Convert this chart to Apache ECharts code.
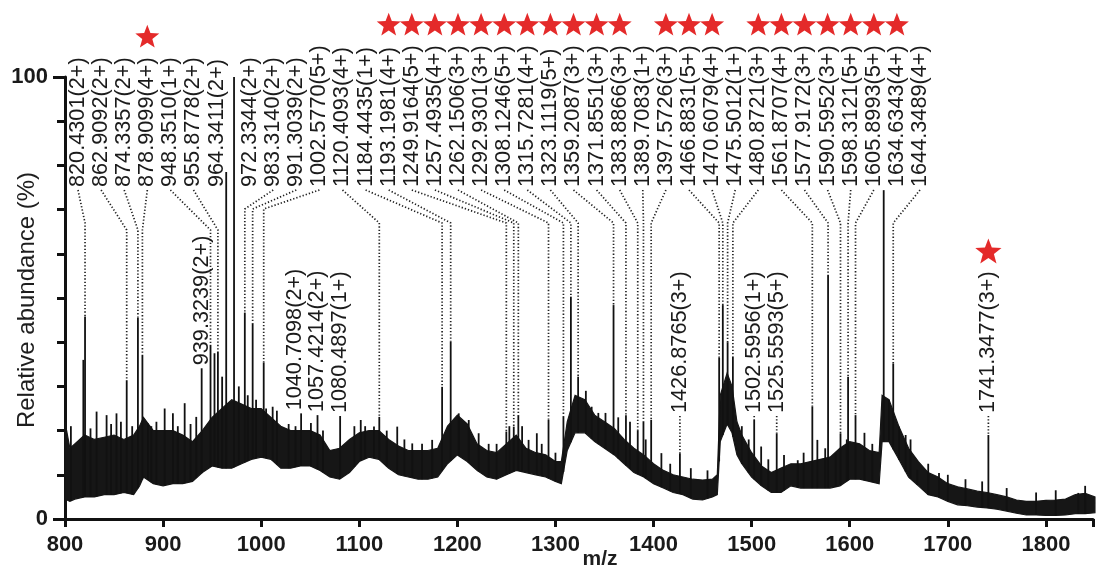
<!DOCTYPE html>
<html>
<head>
<meta charset="utf-8">
<script src="https://cdn.jsdelivr.net/npm/echarts@6/dist/echarts.min.js"></script>
<style>
  html, body { margin: 0; padding: 0; background: #ffffff; }
  #chart { width: 1096px; height: 570px; }
</style>
</head>
<body>
<div id="chart"></div>
<script>
// ---- Data -------------------------------------------------------------

// Ions labelled in the row along the top: m/z, charge, relative abundance (%)
const topMz = [820.4301, 862.9092, 874.3357, 878.9099, 948.3510, 955.8778, 964.3411,
  972.3344, 983.3140, 991.3039, 1002.5770, 1120.4093, 1184.4435, 1193.1981, 1249.9164,
  1257.4935, 1262.1506, 1292.9301, 1308.1246, 1315.7281, 1323.1119, 1359.2087, 1371.8551,
  1383.8866, 1389.7083, 1397.5726, 1466.8831, 1470.6079, 1475.5012, 1480.8721, 1561.8707,
  1577.9172, 1590.5952, 1598.3121, 1605.8993, 1634.6343, 1644.3489];
const topCharge = [2, 2, 2, 4, 1, 2, 2,
  2, 2, 2, 5, 4, 1, 4, 5,
  4, 3, 3, 5, 4, 5, 3, 3,
  3, 1, 3, 5, 4, 1, 3, 4,
  3, 3, 5, 5, 4, 4];
const topAbundance = [45.8, 31.4, 45.5, 37.1, 39.4, 37.9, 78.5,
  100, 46.7, 44.3, 35.4, 23.1, 29.9, 40.1, 19.8,
  20.9, 23.5, 22.4, 23.1, 50.3, 32.2, 48.4, 23.5,
  20.1, 22.0, 22.4, 36.5, 48.4, 40.0, 36.7, 25.4,
  55.2, 19.4, 32.2, 23.5, 74.4, 35.2];

// Ions labelled just above their own peak
const lowMz = [939.3239, 1040.7098, 1057.4214, 1080.4897, 1426.8765, 1502.5956, 1525.5593, 1741.3477];
const lowCharge = [2, 2, 2, 1, 3, 1, 5, 3];
const lowAbundance = [34.1, 23.9, 23.5, 23.3, 14.9, 22.4, 19.4, 19.0];

// Ions marked with a red star
const starredMz = [878.9099, 1193.1981, 1249.9164, 1257.4935, 1262.1506, 1292.9301,
  1308.1246, 1315.7281, 1323.1119, 1359.2087, 1371.8551, 1383.8866, 1397.5726,
  1466.8831, 1470.6079, 1480.8721, 1561.8707, 1577.9172, 1590.5952, 1598.3121,
  1605.8993, 1634.6343, 1741.3477];

// Other unlabelled spikes rising above the baseline
const spikeMz = [806.0, 818.7, 826.0, 832.2, 842.4, 847.0, 852.5, 857.0, 868.5, 884.6,
  888.0, 893.2, 901.6, 910.0, 915.0, 922.0, 928.0, 933.8, 952.4, 960.2,
  977.2, 986.3, 994.8, 1005.0, 1011.7, 1016.0, 1028.0, 1035.0, 1050.7, 1063.0,
  1095.0, 1101.5, 1106.0, 1115.0, 1128.0, 1138.7, 1146.0, 1154.0, 1164.0, 1174.3,
  1201.4, 1211.6, 1221.7, 1231.9, 1240.0, 1253.0, 1266.0, 1272.6, 1281.0, 1286.0,
  1300.0, 1331.0, 1336.9, 1343.7, 1351.0, 1364.0, 1376.0, 1392.0, 1408.0, 1417.0,
  1438.0, 1455.0, 1490.0, 1497.0, 1509.7, 1517.0, 1533.0, 1547.0, 1553.0, 1567.0,
  1575.0, 1585.7, 1597.0, 1615.0, 1623.0, 1640.0, 1650.3, 1657.0, 1662.0, 1668.9,
  1680.0, 1691.0, 1700.0, 1718.0, 1735.0, 1760.0, 1790.0, 1810.0, 1833.0, 1840.0];
const spikeAbundance = [21, 36, 20.5, 24.3, 23.5, 21.5, 23.9, 22, 21, 21.6,
  21, 22, 25, 23.9, 21, 26.2, 21.5, 23.1, 37.5, 32.2,
  30, 28, 27, 25, 25.4, 24.5, 21.5, 21, 21.7, 20,
  21, 22.4, 21, 20.9, 20, 20.9, 18, 17.1, 17, 17.9,
  23.9, 22.4, 19.4, 17, 17, 21, 21, 17.9, 19.4, 17,
  15, 29, 25.4, 24, 24, 23, 22, 18, 14.9, 12.5,
  11.5, 11, 21, 18, 16.4, 13.5, 14.5, 13.3, 15, 17.9,
  16, 14.9, 18, 19.5, 17, 27, 20.9, 19, 18, 11.1,
  12.5, 10.4, 10, 9, 8.5, 7, 6, 6.5, 5.9, 7.5];

// Noise band of the trace: m/z with lower and upper envelope (%)
const bandMz = [800, 805, 810, 820, 830, 840, 850, 860, 870, 876, 880, 890, 900, 910, 920, 930,
  940, 950, 960, 970, 980, 990, 1000, 1010, 1020, 1030, 1040, 1050, 1060, 1070, 1080, 1090,
  1100, 1110, 1120, 1130, 1140, 1150, 1160, 1170, 1180, 1190, 1200, 1210, 1220, 1230, 1240,
  1250, 1260, 1270, 1280, 1290, 1300, 1306, 1312, 1320, 1330, 1340, 1350, 1360, 1370, 1380,
  1390, 1400, 1410, 1420, 1430, 1440, 1450, 1460, 1465, 1468, 1475, 1480, 1485, 1490, 1500,
  1510, 1520, 1530, 1540, 1550, 1560, 1570, 1580, 1590, 1600, 1610, 1620, 1630, 1633, 1640,
  1650, 1660, 1670, 1680, 1690, 1700, 1710, 1720, 1730, 1740, 1750, 1760, 1770, 1780, 1790,
  1800, 1810, 1820, 1830, 1840, 1850];
const bandLow = [4.5, 4, 4.5, 5, 5, 5.5, 5.5, 6, 5.5, 7.5, 9.5, 8, 7.5, 8, 8, 8.5,
  10.5, 12, 11.5, 11.5, 12.5, 13.5, 14, 13.5, 11.5, 11.5, 12, 12, 11, 9.5, 9, 10.5,
  13, 14, 13.5, 11.5, 10, 9.5, 9, 9, 9.5, 12.5, 14.5, 13, 11, 9.5, 9,
  10, 11, 10.5, 10, 9.5, 8.5, 8, 15.5, 19.5, 19.5, 17.5, 16, 14.5, 12.5, 10.5,
  9.5, 8, 7, 6, 5.5, 4.5, 4.3, 5, 5.5, 17.5, 21.5, 19.5, 14.5, 12.5, 9.5,
  7.5, 6, 6, 7.5, 7, 7, 7, 7, 7.5, 9, 9, 8.5, 8, 17.5, 17.5,
  13.5, 9.5, 7.5, 5.5, 5, 4, 3.2, 3, 2.7, 2.5, 2.2, 1.8, 1.3, 0.9, 0.9,
  0.8, 0.8, 0.9, 1.2, 1.2, 1.4];
const bandHigh = [22, 16, 17, 19, 18, 18.5, 19, 18, 19, 21, 23, 20, 20, 20, 19, 17.5,
  20, 23, 25, 27, 26, 25, 25, 23, 21, 20, 20, 20, 19, 15.5, 16, 18,
  19.5, 20, 20, 18, 16.5, 15.5, 15.5, 15.5, 16, 21, 23.5, 21.5, 17, 15.5, 15,
  17, 19, 16, 15, 14.5, 13, 13, 22, 28, 27, 23.5, 22, 20.5, 18, 16,
  14.5, 12.5, 11, 10, 9.5, 9, 8.8, 9, 10, 28, 33, 30, 22, 19, 15,
  12, 10.5, 11.5, 12.5, 12.5, 13, 13.5, 14, 16, 17.5, 17, 15.5, 15, 28, 27,
  21, 16, 13, 10.5, 9.5, 8, 7.3, 6.8, 6.3, 6, 5.5, 5, 4.3, 4, 4,
  4.2, 4.3, 4.5, 5.5, 5.8, 5];

// Axis ranges
const xRange = [800, 1848];
const yRange = [0, 100];

// ---- Layout and style -------------------------------------------------

const FONT = '"Liberation Sans", Arial, Helvetica, sans-serif';
const LABEL_SIZE = 21.7;
const INK = '#1b1b1b';
const STAR_RED = '#e42a2a';

// top row of labels: evenly spaced slots with one wider gap
const SLOT_START = 78, SLOT_STEP = 23.1, SLOT_EXTRA = 10.4, SLOT_EXTRA_AFTER = 7;
const TOP_LABEL_BASE = 187;      // y where each top-row label starts (reads upward)
const LOW_LABEL_BASE = 413;      // y where labels above the trace start
const LOW_LABEL_MIN_GAP = 22;

function slotX(i) {
  return SLOT_START + i * SLOT_STEP + (i >= SLOT_EXTRA_AFTER ? SLOT_EXTRA : 0);
}
function bendY(i) {
  if (i >= 1 && i <= 5) return 230;
  if (i >= 8 && i <= 10) return 209;
  return 223;
}

const measureCtx = document.createElement('canvas').getContext('2d');
measureCtx.font = LABEL_SIZE + 'px ' + FONT;
if ('fontKerning' in measureCtx) measureCtx.fontKerning = 'none';
// digits are tabular, so the length of a label depends only on its character pattern
function labelLength(t) { return measureCtx.measureText(t.replace(/\d/g, '0')).width; }
function ionLabel(mz, z) { return mz.toFixed(4) + '(' + z + '+)'; }
function isStarred(mz) { return starredMz.indexOf(mz) >= 0; }

function starShape(cx, cy, R) {
  const pts = [];
  for (let k = 0; k < 10; k++) {
    const a = -Math.PI / 2 + k * Math.PI / 5;
    const r = k % 2 ? R * 0.42 : R;
    pts.push([cx + r * Math.cos(a), cy + r * Math.sin(a)]);
  }
  return { type: 'polygon', shape: { points: pts }, style: { fill: STAR_RED } };
}

function labelText(x, y, text) {
  return {
    type: 'text', x: x, y: y, rotation: Math.PI / 2,
    style: { text: text, fill: INK, fontSize: LABEL_SIZE, fontFamily: FONT,
             align: 'left', verticalAlign: 'middle' }
  };
}

function dotted(points) {
  return {
    type: 'polyline', shape: { points: points },
    style: { stroke: '#222', lineWidth: 1.7, lineDash: [1.3, 2], fill: null }
  };
}

// lower edge of the band at a given m/z, used as the foot of each spike
function bandFloor(mz) {
  for (let i = 1; i < bandMz.length; i++) {
    if (mz <= bandMz[i]) {
      const t = (mz - bandMz[i - 1]) / (bandMz[i] - bandMz[i - 1]);
      return bandLow[i - 1] + t * (bandLow[i] - bandLow[i - 1]);
    }
  }
  return bandLow[bandLow.length - 1];
}

const peakData = []
  .concat(topMz.map((m, i) => [m, topAbundance[i]]))
  .concat(lowMz.map((m, i) => [m, lowAbundance[i]]))
  .concat(spikeMz.map((m, i) => [m, spikeAbundance[i]]));

// ---- Chart ------------------------------------------------------------

const chart = echarts.init(document.getElementById('chart'), null, { renderer: 'canvas' });
document.querySelectorAll('#chart canvas').forEach(c => {
  const ctx = c.getContext('2d');
  if (ctx && 'fontKerning' in ctx) ctx.fontKerning = 'none';
});

chart.setOption({
  animation: false,
  backgroundColor: '#ffffff',
  grid: { left: 65, right: 0, top: 77, bottom: 51 },
  xAxis: {
    type: 'value', min: xRange[0], max: xRange[1], interval: 100,
    axisLine: { show: true, lineStyle: { color: '#111', width: 3 } },
    axisTick: { show: true, length: 8, lineStyle: { color: '#111', width: 3 } },
    axisLabel: {
      color: '#1a1a1a', fontSize: 22, fontWeight: 'bold', fontFamily: FONT, margin: 15,
      formatter: v => (v % 100 === 0 && v <= 1800 ? String(v) : '')
    },
    splitLine: { show: false }
  },
  yAxis: {
    type: 'value', min: yRange[0], max: yRange[1], interval: 100,
    axisLine: { show: true, lineStyle: { color: '#111', width: 3 } },
    axisTick: { show: true, length: 12, lineStyle: { color: '#111', width: 3 } },
    minorTick: { show: true, splitNumber: 10, length: 8, lineStyle: { color: '#111', width: 3 } },
    axisLabel: { color: '#1a1a1a', fontSize: 22, fontWeight: 'bold', fontFamily: FONT, margin: 17 },
    splitLine: { show: false }, minorSplitLine: { show: false }
  },
  graphic: [
    { type: 'text', x: 27, y: 300, rotation: Math.PI / 2,
      style: { text: 'Relative abundance (%)', fill: '#1e1e1e', fontSize: 24, fontFamily: FONT,
               align: 'center', verticalAlign: 'middle' } },
    { type: 'text', x: 600, y: 559,
      style: { text: 'm/z', fill: '#1e1e1e', fontSize: 21, fontWeight: 'bold', fontFamily: FONT,
               align: 'center', verticalAlign: 'middle' } }
  ],
  series: [
    {
      // dense noise band of the spectrum
      type: 'custom', name: 'baseline', z: 1,
      data: bandMz.map((m, i) => [m, bandLow[i], bandHigh[i]]),
      renderItem: function (params, api) {
        if (params.dataIndex !== 0) return null;
        const pts = [];
        for (let i = 0; i < bandMz.length; i++) pts.push(api.coord([bandMz[i], bandHigh[i]]));
        for (let i = bandMz.length - 1; i >= 0; i--) pts.push(api.coord([bandMz[i], bandLow[i]]));
        return { type: 'polygon', shape: { points: pts },
                 style: { fill: '#161616', stroke: '#161616', lineWidth: 1.2 } };
      }
    },
    {
      // peak sticks
      type: 'custom', name: 'peaks', z: 2,
      data: peakData,
      renderItem: function (params, api) {
        const mz = api.value(0);
        const top = api.coord([mz, api.value(1)]);
        const foot = api.coord([mz, bandFloor(mz)]);
        return { type: 'line', shape: { x1: top[0], y1: top[1], x2: top[0], y2: foot[1] },
                 style: { stroke: '#111', lineWidth: 1.8 } };
      }
    },
    {
      // labels in the top row with their dotted leaders
      type: 'custom', name: 'topLabels', z: 3,
      data: topMz.map((m, i) => [m, topAbundance[i]]),
      renderItem: function (params, api) {
        const i = params.dataIndex;
        const peak = api.coord([api.value(0), api.value(1)]);
        const lx = slotX(i);
        const text = ionLabel(topMz[i], topCharge[i]);
        const children = [labelText(lx, TOP_LABEL_BASE, text)];
        if (peak[1] > TOP_LABEL_BASE + 12) {
          const by = Math.min(bendY(i), peak[1]);
          children.push(dotted([[lx, TOP_LABEL_BASE + 3], [peak[0], by], [peak[0], peak[1]]]));
        }
        if (isStarred(topMz[i])) {
          children.push(starShape(lx, TOP_LABEL_BASE - labelLength(text) - 20, 12.6));
        }
        return { type: 'group', children: children };
      }
    },
    {
      // labels sitting just above their peaks
      type: 'custom', name: 'lowLabels', z: 3,
      data: lowMz.map((m, i) => [m, lowAbundance[i]]),
      renderItem: function (params, api) {
        const xs = lowMz.map(m => api.coord([m, 0])[0]);
        for (let k = xs.length - 2; k >= 0; k--) {
          xs[k] = Math.min(xs[k], xs[k + 1] - LOW_LABEL_MIN_GAP);
        }
        const i = params.dataIndex;
        const peak = api.coord([api.value(0), api.value(1)]);
        const lx = xs[i];
        const base = Math.min(LOW_LABEL_BASE, peak[1] - 3);
        const text = ionLabel(lowMz[i], lowCharge[i]);
        const children = [labelText(lx, base, text)];
        if (peak[1] - base > 6) children.push(dotted([[lx, base + 3], [peak[0], peak[1]]]));
        if (isStarred(lowMz[i])) {
          children.push(starShape(lx, base - labelLength(text) - 19, 13.8));
        }
        return { type: 'group', children: children };
      }
    }
  ]
});
</script>
</body>
</html>
